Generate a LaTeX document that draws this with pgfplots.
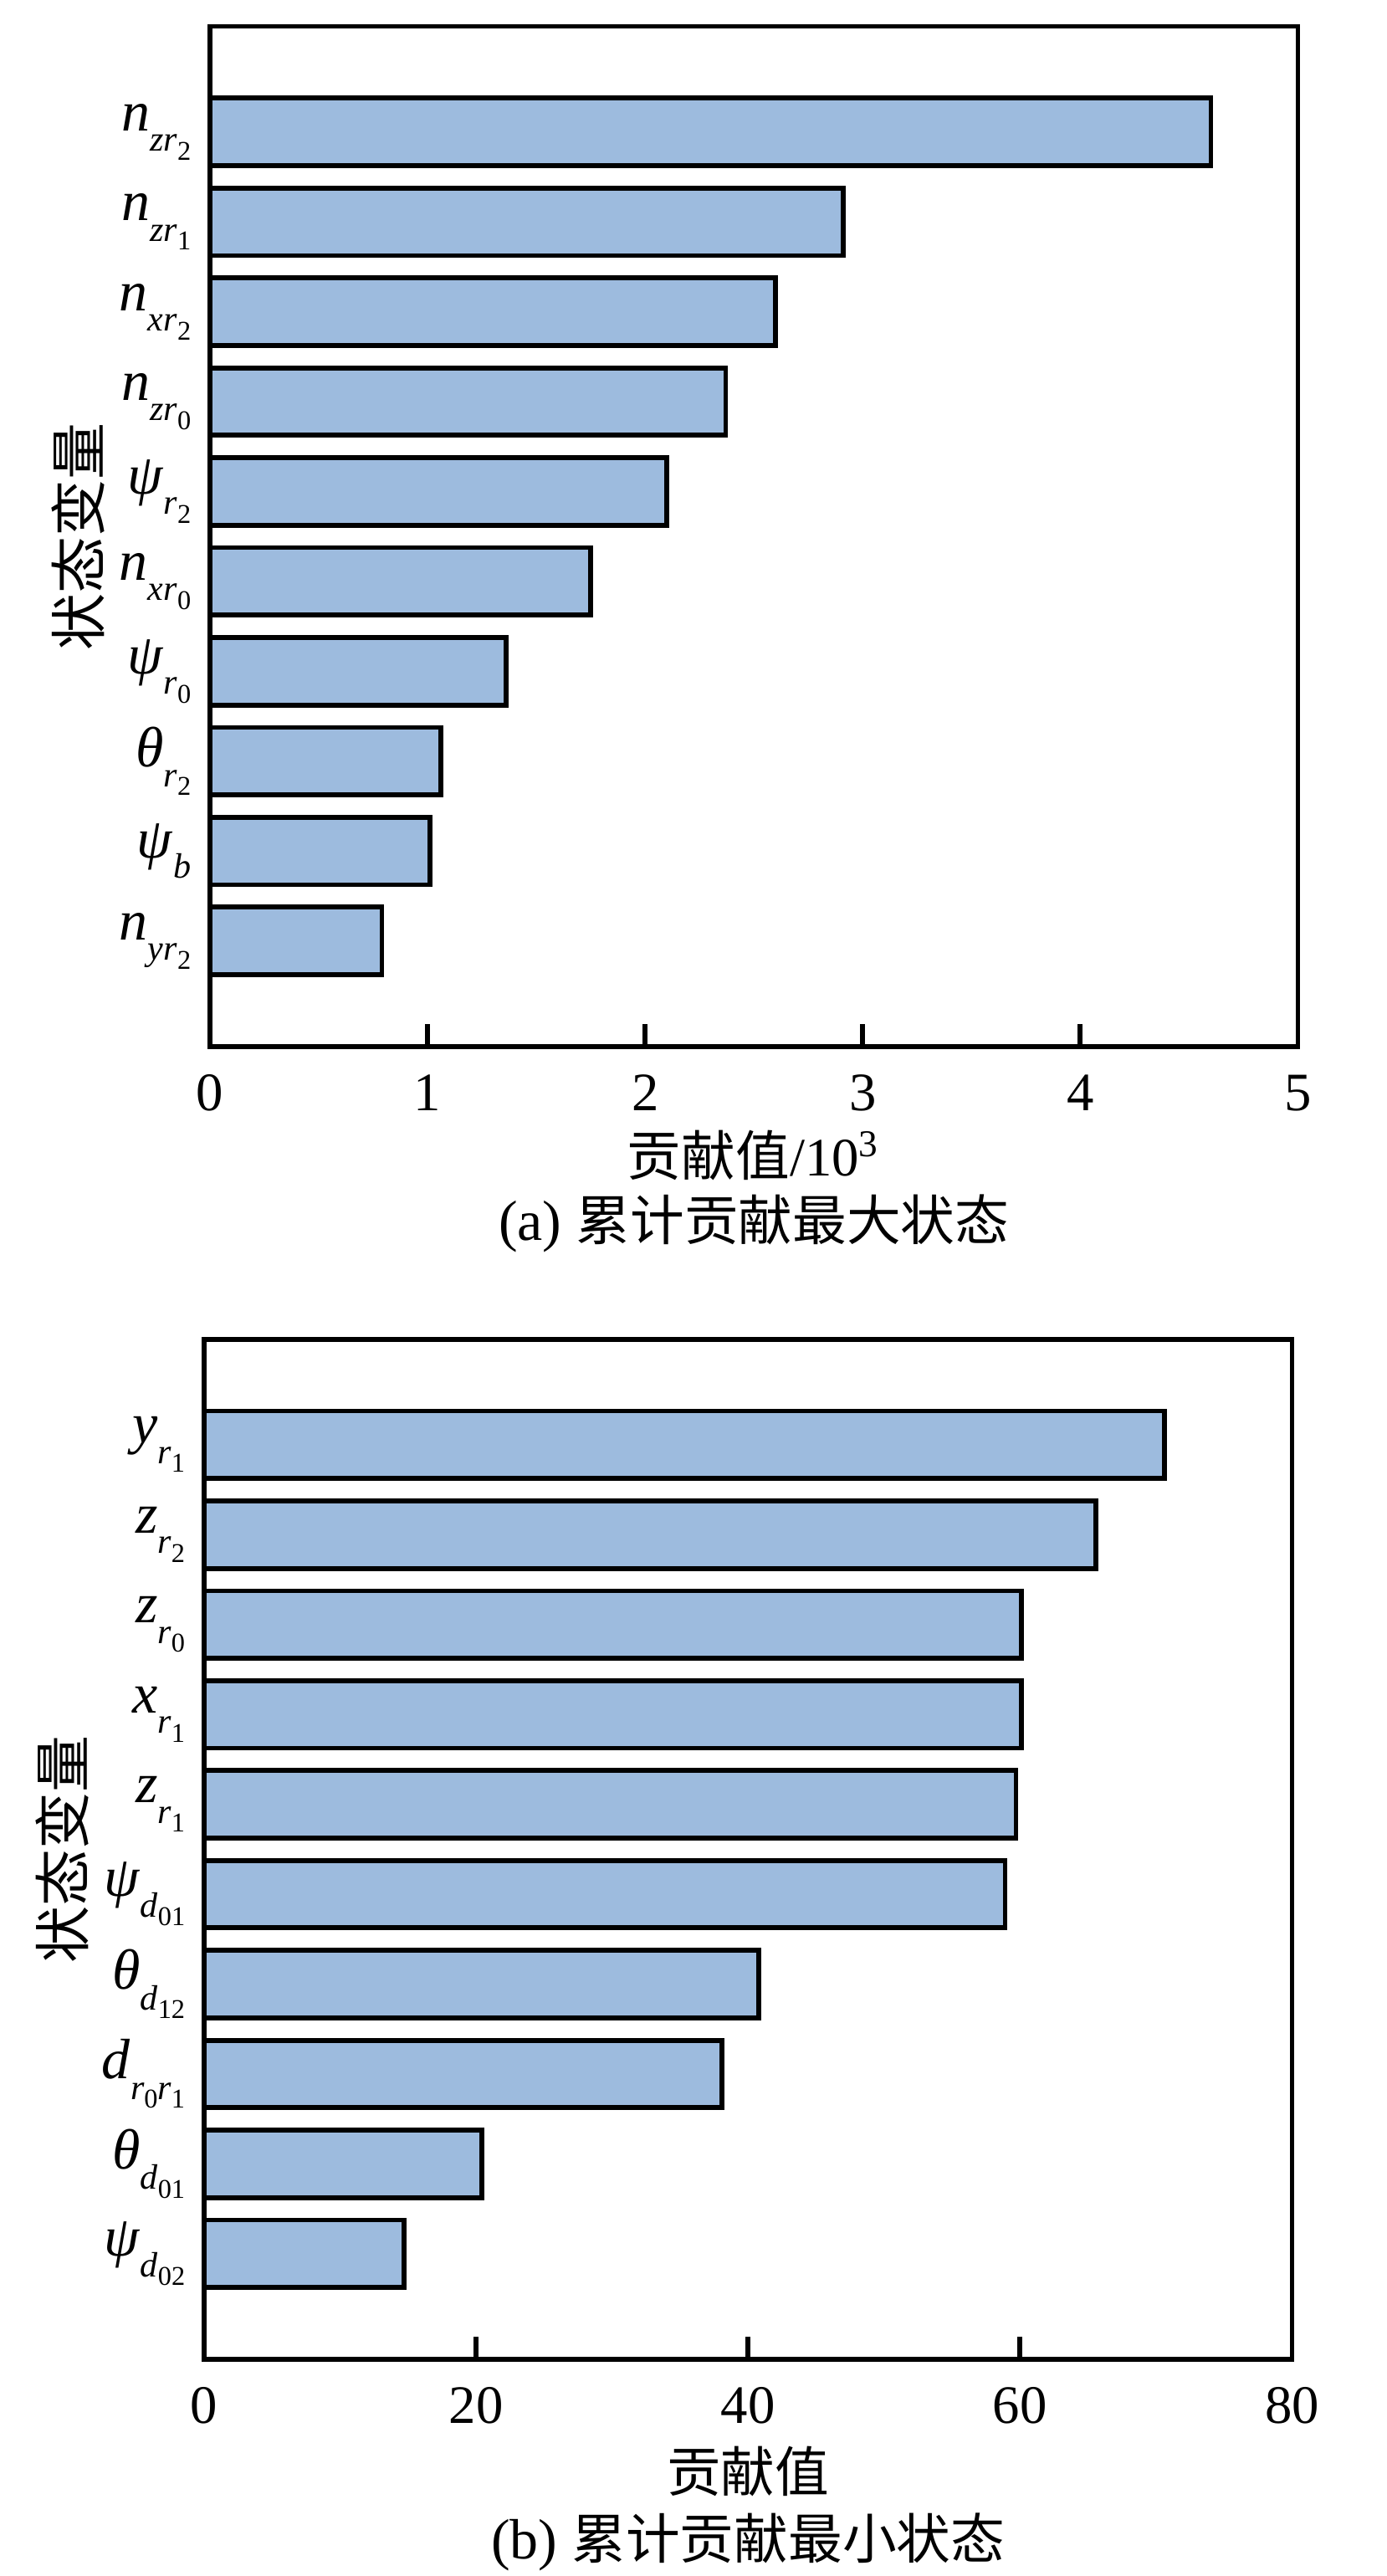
\documentclass[border=0pt]{standalone}
\usepackage{pgfplots}
\pgfplotsset{compat=1.18}
\usepackage{fontspec}
\setmainfont{Liberation Serif}
\newfontfamily\cjk{Noto Sans CJK SC}

\definecolor{barfill}{RGB}{157,187,222}

% lowered subscripts, as in the figure
\newcommand\subA[1]{\raisebox{-0.36em}{\fontsize{6.5}{7}\selectfont\itshape #1}}
\newcommand\subB[1]{\raisebox{-0.25em}{\fontsize{5}{6}\selectfont\upshape #1}}

\pgfplotsset{
  contrib/.style={
    scale only axis, width=7.06cm, height=6.62cm,
    anchor=south west, clip=false,
    xbar, bar width=0.75,
    xmin=0,
    ymin=-1.175, ymax=10.175,
    ytick={0,...,9},
    tick pos=left, tick align=inside,
    major tick length=0.145cm,
    axis line style={line width=0.9pt},
    every tick/.append style={line width=0.9pt, black},
    /pgf/number format/assume math mode=true,
    xticklabel style={font=\fontsize{10}{12}\selectfont, yshift=-0.06cm},
    yticklabel style={font=\fontsize{10.5}{12}\selectfont},
    label style={font=\fontsize{10}{12}\selectfont\cjk},
    ylabel style={anchor=center, font=\fontsize{10.5}{12}\selectfont\cjk},
    xlabel style={anchor=center},
  },
  bars/.style={fill=barfill, draw=black, line width=0.9pt},
}

\begin{document}
\begin{tikzpicture}
\path[use as bounding box] (0,0) rectangle (9cm,16.716cm);

% (a) largest accumulated contribution
\begin{axis}[contrib, at={(1.363cm,9.925cm)},
    xmax=5, xtick={0,...,5},
    xlabel={贡献值{\rmfamily/10\textsuperscript{3}}},
    ylabel={状态变量},
    xlabel style={at={(axis description cs:0.5,-0.107)}},
    ylabel style={at={(axis description cs:-0.121,0.5)}},
    yticklabels={
      \textit{n}\subA{yr\subB{2}},
      \textit{ψ}\subA{b},
      \textit{θ}\subA{r\subB{2}},
      \textit{ψ}\subA{r\subB{0}},
      \textit{n}\subA{xr\subB{0}},
      \textit{ψ}\subA{r\subB{2}},
      \textit{n}\subA{zr\subB{0}},
      \textit{n}\subA{xr\subB{2}},
      \textit{n}\subA{zr\subB{1}},
      \textit{n}\subA{zr\subB{2}}},
  ]
\addplot[bars] coordinates {
  (0.79,0) (1.01,1) (1.06,2) (1.36,3) (1.75,4)
  (2.10,5) (2.37,6) (2.60,7) (2.91,8) (4.60,9)
};
\node[font=\fontsize{10.5}{12}\selectfont] at (axis description cs:0.5,-0.1738)
  {(a) {\cjk\fontsize{10}{12}\selectfont 累计贡献最大状态}};
\end{axis}

% (b) smallest accumulated contribution
\begin{axis}[contrib, at={(1.325cm,1.406cm)},
    xmax=80, xtick={0,20,...,80},
    xlabel={贡献值},
    ylabel={状态变量},
    xlabel style={at={(axis description cs:0.5,-0.1097)}},
    ylabel style={at={(axis description cs:-0.1307,0.5)}},
    yticklabels={
      \textit{ψ}\subA{d\subB{02}},
      \textit{θ}\subA{d\subB{01}},
      \textit{d}\subA{r\subB{0}r\subB{1}},
      \textit{θ}\subA{d\subB{12}},
      \textit{ψ}\subA{d\subB{01}},
      \textit{z}\subA{r\subB{1}},
      \textit{x}\subA{r\subB{1}},
      \textit{z}\subA{r\subB{0}},
      \textit{z}\subA{r\subB{2}},
      \textit{y}\subA{r\subB{1}}},
  ]
\addplot[bars] coordinates {
  (14.7,0) (20.4,1) (38.1,2) (40.8,3) (58.9,4)
  (59.7,5) (60.1,6) (60.1,7) (65.6,8) (70.6,9)
};
\node[font=\fontsize{10.5}{12}\selectfont] at (axis description cs:0.5,-0.1794)
  {(b) {\cjk\fontsize{10}{12}\selectfont 累计贡献最小状态}};
\end{axis}
\end{tikzpicture}
\end{document}
